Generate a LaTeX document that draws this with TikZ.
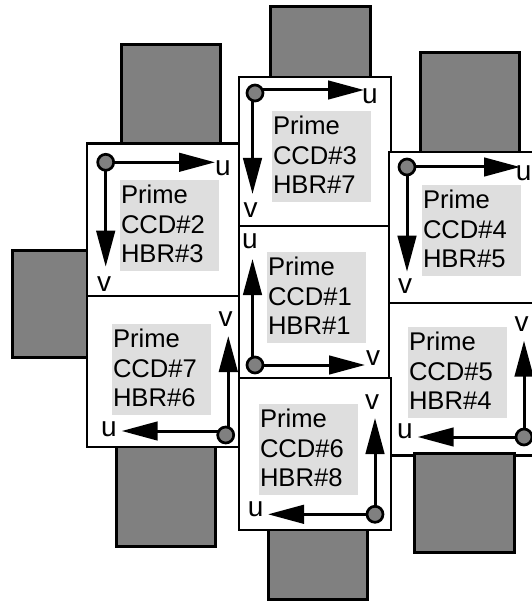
\documentclass[tikz,border=0pt]{standalone}
\usepackage{fontspec}
\setmainfont{Liberation Sans}
\usetikzlibrary{arrows.meta}
\tikzset{
	chipbox/.style={draw=black,fill=white,line width=2.7pt},
	sensorbox/.style={draw=black,fill=gray,line width=3pt},
	axisline/.style={-{Triangle[length=36pt,width=18.5pt]},black,line width=3pt},
	origindot/.style={circle,draw=black,fill=gray,line width=2.7pt,minimum size=16pt,inner sep=0pt},
	chiplabel/.style={fill=black!13,text=black,minimum height=91pt,text width=97pt,inner xsep=1pt,inner ysep=0pt,align=left,font=\fontsize{25.6}{29.2}\selectfont,execute at end node={\rule[-3pt]{0pt}{3pt}}},
	axislabel/.style={inner sep=0pt,text=black,font=\fontsize{28}{30}\selectfont}
}
\begin{document}
\begin{tikzpicture}[x=1pt,y=-1pt,line join=miter]
	\useasboundingbox (0,0) rectangle (531,601);
	% sensors behind the chips
	\draw[sensorbox] (121,44.7) rectangle (220.7,150);
	\draw[sensorbox] (12,250) rectangle (95,357);
	\draw[sensorbox] (116,440) rectangle (215,546.7);
	\draw[sensorbox] (270.7,7) rectangle (370,85);
	\draw[sensorbox] (420,52.7) rectangle (519,160);
	\draw[sensorbox] (268,520) rectangle (367,599);
	% chips
	\draw[chipbox] (239,77) rectangle (391,226);
	\draw[chipbox] (239,226) rectangle (391,378);
	\draw[chipbox] (87,143.7) rectangle (239,296);
	\draw[chipbox] (87,296) rectangle (239,447);
	\draw[chipbox] (389,152) rectangle (541,303);
	\draw[chipbox] (389,303) rectangle (541,455.6);
	\draw[sensorbox] (414,453) rectangle (514,552);
	\draw[chipbox] (239,378) rectangle (391,530);
	% chip labels
	\node[chiplabel] (labelOne) at (316.5,297.3) {Prime\\CCD\#1\\HBR\#1};
	\node[chiplabel] (labelTwo) at (169.5,225.3) {Prime\\CCD\#2\\HBR\#3};
	\node[chiplabel] (labelThree) at (321.5,156.3) {Prime\\CCD\#3\\HBR\#7};
	\node[chiplabel] (labelFour) at (471.5,230.3) {Prime\\CCD\#4\\HBR\#5};
	\node[chiplabel] (labelFive) at (457.5,372.3) {Prime\\CCD\#5\\HBR\#4};
	\node[chiplabel] (labelSix) at (308.5,449.3) {Prime\\CCD\#6\\HBR\#8};
	\node[chiplabel] (labelSeven) at (161.5,369.3) {Prime\\CCD\#7\\HBR\#6};
	% chip 1
	\coordinate (originOne) at (255,365);
	\coordinate (uEndOne) at (252.5,259);
	\coordinate (vEndOne) at (365,365);
	\draw[axisline] (uEndOne |- originOne) -- (uEndOne);
	\draw[axisline] (originOne) -- (vEndOne);
	\node[origindot] (dotOne) at (originOne) {};
	\node[axislabel] (uOne) at (250,241.7) {u};
	\node[axislabel] (vOne) at (373,358) {v};
	% chip 2
	\coordinate (originTwo) at (105.7,162.3);
	\coordinate (uEndTwo) at (215,162.3);
	\coordinate (vEndTwo) at (105.7,266.7);
	\draw[axisline] (originTwo) -- (uEndTwo);
	\draw[axisline] (originTwo) -- (vEndTwo);
	\node[origindot] (dotTwo) at (originTwo) {};
	\node[axislabel] (uTwo) at (223,168) {u};
	\node[axislabel] (vTwo) at (104,284) {v};
	% chip 3
	\coordinate (originThree) at (255,93);
	\coordinate (uEndThree) at (364,90);
	\coordinate (vEndThree) at (252.5,194);
	\draw[axisline] (uEndThree -| originThree) -- (uEndThree);
	\draw[axisline] (vEndThree |- originThree) -- (vEndThree);
	\node[origindot] (dotThree) at (originThree) {};
	\node[axislabel] (uThree) at (370,96) {u};
	\node[axislabel] (vThree) at (250.7,210) {v};
	% chip 4
	\coordinate (originFour) at (407,167);
	\coordinate (uEndFour) at (520,167);
	\coordinate (vEndFour) at (407,271.7);
	\draw[axisline] (originFour) -- (uEndFour);
	\draw[axisline] (originFour) -- (vEndFour);
	\node[origindot] (dotFour) at (originFour) {};
	\node[axislabel] (uFour) at (523.6,173) {u};
	\node[axislabel] (vFour) at (405,286) {v};
	% chip 5
	\coordinate (originFive) at (524,437);
	\coordinate (uEndFive) at (417.7,437);
	\coordinate (vEndFive) at (524,340.7);
	\draw[axisline] (originFive) -- (uEndFive);
	\draw[axisline] (originFive) -- (vEndFive);
	\node[origindot] (dotFive) at (originFive) {};
	\node[axislabel] (uFive) at (405,431.7) {u};
	\node[axislabel] (vFive) at (521.7,324) {v};
	% chip 6
	\coordinate (originSix) at (375,514.3);
	\coordinate (uEndSix) at (268,514.3);
	\coordinate (vEndSix) at (375,418);
	\draw[axisline] (originSix) -- (uEndSix);
	\draw[axisline] (originSix) -- (vEndSix);
	\node[origindot] (dotSix) at (originSix) {};
	\node[axislabel] (uSix) at (255.7,509.3) {u};
	\node[axislabel] (vSix) at (372,401.7) {v};
	% chip 7
	\coordinate (originSeven) at (225.7,435);
	\coordinate (uEndSeven) at (121.7,431);
	\coordinate (vEndSeven) at (228.3,336);
	\draw[axisline] (uEndSeven -| originSeven) -- (uEndSeven);
	\draw[axisline] (vEndSeven |- originSeven) -- (vEndSeven);
	\node[origindot] (dotSeven) at (originSeven) {};
	\node[axislabel] (uSeven) at (109,429) {u};
	\node[axislabel] (vSeven) at (225.7,319) {v};
\end{tikzpicture}
\end{document}
